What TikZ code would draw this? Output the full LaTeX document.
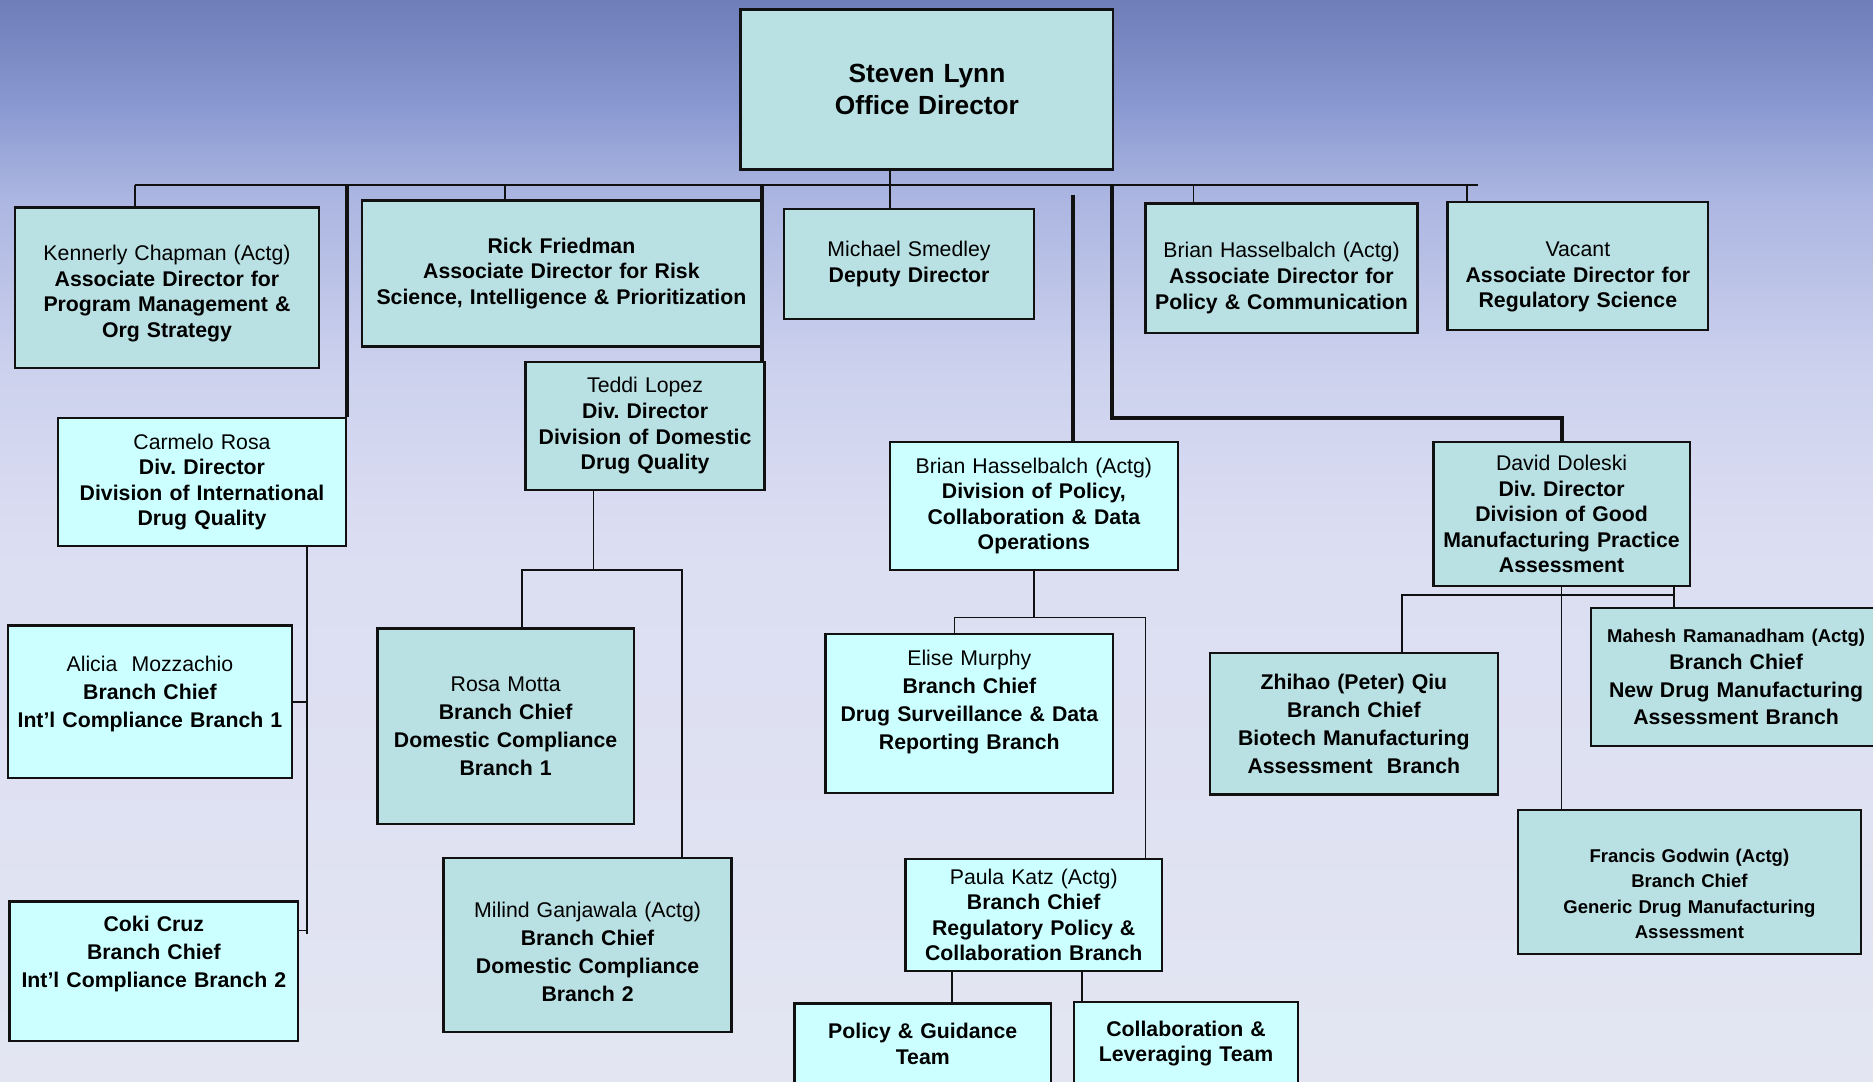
\documentclass[tikz,border=0pt]{standalone}
\usepackage{fontspec}
\setmainfont{Liberation Sans}
\definecolor{boxteal}{RGB}{185, 224, 227}
\definecolor{boxcyan}{RGB}{204, 255, 255}
\definecolor{inkline}{RGB}{17, 17, 17}
\usepackage{tikz}

% visible part of a shading runs from 25bp to 75bp
\pgfdeclareverticalshading{skyfade}{100bp}{%
  rgb(0bp)=(0.89,0.90,0.95); rgb(25bp)=(0.89,0.90,0.95); rgb(50bp)=(0.86,0.87,0.95);
  rgb(58bp)=(0.80,0.82,0.93); rgb(66bp)=(0.67,0.71,0.88); rgb(70bp)=(0.54,0.60,0.82);
  rgb(75bp)=(0.435,0.49,0.72); rgb(100bp)=(0.435,0.49,0.72)}

\begin{document}
\begin{tikzpicture}[x=1pt, y=-1pt,
  orgbox/.style={draw=inkline, line width=2pt, inner sep=0pt, align=center,
    font=\fontsize{17.8}{21.4}\selectfont},
  tealbox/.style={orgbox, fill=boxteal},
  cyanbox/.style={orgbox, fill=boxcyan},
  dims/.style 2 args={minimum width=#1, text width=#1, minimum height=#2},
  loose/.style={font=\fontsize{17.8}{23.5}\selectfont},
  smalltext/.style={font=\fontsize{15.5}{21}\selectfont},
  sink/.style={execute at begin node={\rule{0pt}{#1}}},
  lift/.style={execute at end node={\rule[-#1]{0pt}{0pt}}},
  busline/.style={inkline, line width=2pt},
  trunk/.style={inkline, line width=3.5pt},
  stub/.style={inkline, line width=1.4pt},
  twig/.style={inkline, line width=1.3pt}]

  % Background
  \useasboundingbox (0, 0) rectangle (1568, 905);
  \clip (0, 0) rectangle (1568, 905);
  \shade[shading=skyfade] (0, 0) rectangle (1568, 905);

  % Office director
  \node[tealbox, dims={312pt}{134pt}, font=\fontsize{22}{27}\selectfont\bfseries] (lynn) at (776, 75) {Steven Lynn\\ Office Director};

  % Associate directors and deputy
  \node[tealbox, dims={254.5pt}{134.5pt}, sink=23pt] (chapman) at (139.8, 240.8) {Kennerly Chapman (Actg)\\ \bfseries Associate Director for\\ Program Management \&\\ Org Strategy};
  \node[tealbox, dims={334pt}{122pt}] (friedman) at (470, 229) {\bfseries Rick Friedman\\ Associate Director for Risk\\ Science, Intelligence \& Prioritization};
  \node[tealbox, dims={209pt}{92pt}] (smedley) at (761, 221) {Michael Smedley\\ \bfseries Deputy Director};
  \node[tealbox, dims={227.6pt}{108.6pt}, sink=29pt] (hasselpol) at (1072.8, 224.7) {Brian Hasselbalch (Actg)\\ \bfseries Associate Director for\\ Policy \& Communication};
  \node[tealbox, dims={218.3pt}{107.3pt}, sink=31pt] (vacant) at (1320.9, 222.7) {Vacant\\ \bfseries Associate Director for\\ Regulatory Science};

  % Divisions
  \node[cyanbox, dims={241pt}{107pt}] (rosa) at (169.1, 403.5) {Carmelo Rosa\\ \bfseries Div.\ Director\\ Division of International\\ Drug Quality};
  \node[tealbox, dims={200pt}{107pt}] (lopez) at (540, 356.5) {Teddi Lopez\\ \bfseries Div.\ Director\\ Division of Domestic\\ Drug Quality};
  \node[cyanbox, dims={241pt}{107pt}] (hasseldiv) at (865.5, 423.5) {Brian Hasselbalch (Actg)\\ \bfseries Division of Policy,\\ Collaboration \& Data\\ Operations};
  \node[tealbox, dims={214.5pt}{120.5pt}] (doleski) at (1307.3, 430.3) {David Doleski\\ \bfseries Div.\ Director\\ Division of Good\\ Manufacturing Practice\\ Assessment};

  % Branches
  \node[cyanbox, loose, dims={238pt}{127.7pt}, lift=17pt] (mozzachio) at (125.5, 587.6) {Alicia\ \ Mozzachio\\ \bfseries Branch Chief\\ Int’l Compliance Branch 1};
  \node[cyanbox, loose, dims={241.5pt}{116.8pt}, lift=33pt] (cruz) at (128.8, 813.2) {\bfseries Coki Cruz\\ Branch Chief\\ Int’l Compliance Branch 2};
  \node[tealbox, loose, dims={214.5pt}{163.5pt}] (motta) at (423.3, 608) {Rosa Motta\\ \bfseries Branch Chief\\ Domestic Compliance\\ Branch 1};
  \node[tealbox, loose, dims={241pt}{145.7pt}, sink=25pt] (ganjawala) at (491.9, 790.9) {Milind Ganjawala (Actg)\\ \bfseries Branch Chief\\ Domestic Compliance\\ Branch 2};
  \node[cyanbox, loose, dims={241pt}{133pt}, lift=23pt] (murphy) at (811.5, 597.5) {Elise Murphy\\ \bfseries Branch Chief\\ Drug Surveillance \& Data\\ Reporting Branch};
  \node[cyanbox, dims={214.8pt}{94pt}] (katz) at (865.4, 766) {Paula Katz (Actg)\\ \bfseries Branch Chief\\ Regulatory Policy \&\\ Collaboration Branch};
  \node[cyanbox, dims={215pt}{68pt}] (policyteam) at (772.5, 874) {\bfseries Policy \& Guidance\\ Team};
  \node[cyanbox, dims={187.7pt}{69pt}] (leverteam) at (992.9, 873.5) {\bfseries Collaboration \&\\ Leveraging Team};
  \node[tealbox, loose, dims={240.8pt}{118.5pt}] (qiu) at (1133.4, 605.8) {\bfseries Zhihao (Peter) Qiu\\ Branch Chief\\ Biotech Manufacturing\\ Assessment\ \ Branch};
  \node[tealbox, dims={243.3pt}{115.6pt}, font=\fontsize{17.8}{23}\selectfont] (ramanadham) at (1453.4, 566.8) {{\fontsize{15.5}{18}\selectfont\bfseries Mahesh Ramanadham (Actg)}\\ \bfseries Branch Chief\\ New Drug Manufacturing\\ Assessment Branch};
  \node[tealbox, smalltext, dims={287pt}{120.7pt}, sink=31pt] (godwin) at (1414.3, 738.4) {\bfseries Francis Godwin (Actg)\\ Branch Chief\\ Generic Drug Manufacturing\\ Assessment};

  % Office level bus
  \coordinate (busL) at (113, 155);
  \coordinate (busR) at (1237, 155);
  \draw[busline] (busL) -- (busR);
  \draw[stub] (lynn.south -| 745, 0) -- (smedley.north -| 745, 0);
  \foreach \x/\who in {113/chapman, 423/friedman, 999/hasselpol, 1228/vacant}
    \draw[stub] (\x, 155) -- (\who.north -| \x, 0);

  % Division trunks
  \draw[trunk] (rosa.north east |- busL) -- (rosa.north east);
  \draw[trunk] (friedman.north east |- busL) -- (friedman.north east |- lopez.north);
  \coordinate (pcdtop) at (898, 163);
  \draw[trunk] (pcdtop) -- (pcdtop |- hasseldiv.north);
  \coordinate (gmpbend) at (931, 350);
  \draw[trunk] (gmpbend |- busL) -- (gmpbend) -| (doleski.north);

  % Int'l compliance branches
  \coordinate (intl) at (257, 782);
  \draw[twig] (rosa.south -| intl) -- (intl);
  \draw[twig] (mozzachio.east) -- (mozzachio.east -| intl);
  \draw[twig] ([yshift=-25pt]cruz.north east) -- ([yshift=-25pt]cruz.north east -| intl);

  % Domestic compliance branches
  \draw[twig] (lopez.south -| 497, 0) -- (497, 477);
  \draw[twig] (motta.north -| 437, 0) -- (437, 477) -- (571, 477) -- (ganjawala.north -| 571, 0);

  % Policy, collaboration & data branches
  \draw[twig] (hasseldiv.south) -- (hasseldiv.south |- 0, 517);
  \draw[twig] (murphy.north -| 799, 0) -- (799, 517) -- (959, 517) -- (katz.north -| 959, 0);
  \draw[twig] (katz.south -| 797, 0) -- (policyteam.north -| 797, 0);
  \draw[twig] (katz.south -| 906, 0) -- (leverteam.north -| 906, 0);

  % GMP assessment branches
  \draw[twig] (doleski.south) -- (godwin.north -| doleski.south);
  \draw[twig] (qiu.north -| 1173.6, 0) -- (1173.6, 498) -- (1401.5, 498);
  \draw[twig] (doleski.south -| 1401.5, 0) -- (ramanadham.north -| 1401.5, 0);
\end{tikzpicture}
\end{document}
